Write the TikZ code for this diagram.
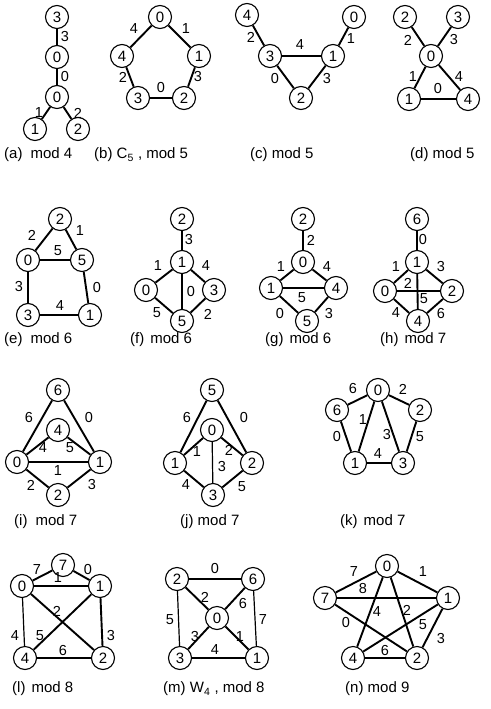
\documentclass[tikz,border=0pt]{standalone}
\usepackage{fontspec}
\setmainfont{Liberation Sans}
\tikzset{
  vtx/.style={circle,draw,line width=1.1pt,minimum size=23pt,inner sep=0pt,font=\fontsize{15}{15}\selectfont},
  ed/.style={line width=1.9pt},
  edt/.style={line width=1.2pt},
  wt/.style={inner sep=0pt,font=\fontsize{14.5}{14.5}\selectfont},
  capt/.style={anchor=west,inner sep=0pt,font=\fontsize{15}{15}\selectfont}
}
\begin{document}
\begin{tikzpicture}[x=1pt,y=-1pt]
    \useasboundingbox (0,0) rectangle (490,709);
    % (a)
    \node[vtx] (a3) at (57,17) {3};
    \node[vtx] (a0) at (57,57) {0};
    \node[vtx] (a0b) at (57,97) {0};
    \node[vtx] (a1) at (35,129) {1};
    \node[vtx] (a2) at (78,129) {2};
    \draw[ed] (a3) -- (a0);
    \draw[ed] (a0) -- (a0b);
    \draw[ed] (a0b) -- (a1);
    \draw[ed] (a0b) -- (a2);
    \node[wt] at (65,37) {3};
    \node[wt] at (65,77) {0};
    \node[wt] at (39,113) {1};
    \node[wt] at (78,113) {2};
    \node[capt] (capa) at (4,155) {(a)\hspace{8pt}mod 4};
    % (b)
    \node[vtx] (b0) at (160,17) {0};
    \node[vtx] (b4) at (122,56) {4};
    \node[vtx] (b1) at (199,56) {1};
    \node[vtx] (b3) at (138,98) {3};
    \node[vtx] (b2) at (184,98) {2};
    \draw[ed] (b0) -- (b4);
    \draw[ed] (b0) -- (b1);
    \draw[ed] (b4) -- (b3);
    \draw[ed] (b1) -- (b2);
    \draw[ed] (b3) -- (b2);
    \node[wt] at (134,29) {4};
    \node[wt] at (186,29) {1};
    \node[wt] at (123,77) {2};
    \node[wt] at (198,77) {3};
    \node[wt] at (161,88) {0};
    \node[capt] (capb) at (94,155) {(b) C\textsubscript{5} , mod 5};
    % (c)
    \node[vtx] (c4) at (247,15) {4};
    \node[vtx] (c0) at (354,17) {0};
    \node[vtx] (c3) at (270,56) {3};
    \node[vtx] (c1) at (333,56) {1};
    \node[vtx] (c2) at (301,98) {2};
    \draw[ed] (c4) -- (c3);
    \draw[ed] (c0) -- (c1);
    \draw[ed] (c3) -- (c1);
    \draw[ed] (c3) -- (c2);
    \draw[ed] (c1) -- (c2);
    \node[wt] at (251,37) {2};
    \node[wt] at (351,39) {1};
    \node[wt] at (300,45) {4};
    \node[wt] at (275,79) {0};
    \node[wt] at (327,79) {3};
    \node[capt] (capc) at (250,155) {(c) mod 5};
    % (d)
    \node[vtx] (d2) at (405,17) {2};
    \node[vtx] (d3) at (458,17) {3};
    \node[vtx] (d0) at (431,56) {0};
    \node[vtx] (d1) at (409,99) {1};
    \node[vtx] (d4) at (468,99) {4};
    \draw[ed] (d2) -- (d0);
    \draw[ed] (d3) -- (d0);
    \draw[ed] (d0) -- (d1);
    \draw[ed] (d0) -- (d4);
    \draw[ed] (d1) -- (d4);
    \node[wt] at (408,40) {2};
    \node[wt] at (454,40) {3};
    \node[wt] at (413,77) {1};
    \node[wt] at (459,77) {4};
    \node[wt] at (438,89) {0};
    \node[capt] (capd) at (410,155) {(d) mod 5};
    % (e)
    \node[vtx] (e2) at (60,219) {2};
    \node[vtx] (e0) at (28,260) {0};
    \node[vtx] (e5) at (82,260) {5};
    \node[vtx] (e3) at (28,315) {3};
    \node[vtx] (e1) at (90,315) {1};
    \draw[ed] (e2) -- (e0);
    \draw[ed] (e2) -- (e5);
    \draw[ed] (e0) -- (e5);
    \draw[ed] (e0) -- (e3);
    \draw[ed] (e5) -- (e1);
    \draw[ed] (e3) -- (e1);
    \node[wt] at (32,235) {2};
    \node[wt] at (80,231) {1};
    \node[wt] at (58,251) {5};
    \node[wt] at (19,287) {3};
    \node[wt] at (97,288) {0};
    \node[wt] at (60,306) {4};
    \node[capt] (cape) at (4,340) {(e)\hspace{8pt}mod 6};
    % (f)
    \node[vtx] (f2) at (182,219) {2};
    \node[vtx] (f1) at (182,262) {1};
    \node[vtx] (f0) at (146,290) {0};
    \node[vtx] (f3) at (214,290) {3};
    \node[vtx] (f5) at (182,321) {5};
    \draw[ed] (f2) -- (f1);
    \draw[ed] (f1) -- (f0);
    \draw[ed] (f1) -- (f3);
    \draw[edt] (f1) -- (f5);
    \draw[ed] (f0) -- (f5);
    \draw[ed] (f3) -- (f5);
    \node[wt] at (189,240) {3};
    \node[wt] at (158,266) {1};
    \node[wt] at (206,266) {4};
    \node[wt] at (191,292) {0};
    \node[wt] at (157,313) {5};
    \node[wt] at (208,314) {2};
    \node[capt] (capf) at (130,340) {(f)\hspace{6pt}mod 6};
    % (g)
    \node[vtx] (g2) at (303,219) {2};
    \node[vtx] (g0) at (303,262) {0};
    \node[vtx] (g1) at (271,288) {1};
    \node[vtx] (g4) at (336,288) {4};
    \node[vtx] (g5) at (307,321) {5};
    \draw[ed] (g2) -- (g0);
    \draw[ed] (g0) -- (g1);
    \draw[ed] (g0) -- (g4);
    \draw[ed] (g1) -- (g4);
    \draw[ed] (g1) -- (g5);
    \draw[ed] (g4) -- (g5);
    \node[wt] at (311,240) {2};
    \node[wt] at (281,267) {1};
    \node[wt] at (327,267) {4};
    \node[wt] at (302,298) {5};
    \node[wt] at (280,314) {0};
    \node[wt] at (329,314) {3};
    \node[capt] (capg) at (265,340) {(g)\hspace{6pt}mod 6};
    % (h)
    \node[vtx] (h6) at (417,219) {6};
    \node[vtx] (h1) at (417,262) {1};
    \node[vtx] (h0) at (385,291) {0};
    \node[vtx] (h2) at (452,291) {2};
    \node[vtx] (h4) at (418,321) {4};
    \draw[edt] (h6) -- (h1);
    \draw[ed] (h1) -- (h0);
    \draw[ed] (h1) -- (h2);
    \draw[ed] (h1) -- (h4);
    \draw[ed] (h0) -- (h2);
    \draw[ed] (h0) -- (h4);
    \draw[ed] (h2) -- (h4);
    \node[wt] at (423,240) {0};
    \node[wt] at (396,267) {1};
    \node[wt] at (441,267) {3};
    \node[wt] at (408,283) {2};
    \node[wt] at (424,299) {5};
    \node[wt] at (396,313) {4};
    \node[wt] at (441,314) {6};
    \node[capt] (caph) at (380,340) {(h)\hspace{6pt}mod 7};
    % (i)
    \node[vtx] (i6) at (58,390) {6};
    \node[vtx] (i4) at (58,430) {4};
    \node[vtx] (i0) at (17,462) {0};
    \node[vtx] (i1) at (100,462) {1};
    \node[vtx] (i2) at (58,495) {2};
    \draw[ed] (i6) -- (i0);
    \draw[ed] (i6) -- (i1);
    \draw[ed] (i4) -- (i0);
    \draw[ed] (i4) -- (i1);
    \draw[ed] (i0) -- (i1);
    \draw[ed] (i0) -- (i2);
    \draw[ed] (i2) -- (i1);
    \node[wt] at (29,418) {6};
    \node[wt] at (89,418) {0};
    \node[wt] at (43,448) {4};
    \node[wt] at (70,448) {5};
    \node[wt] at (58,471) {1};
    \node[wt] at (31,485) {2};
    \node[wt] at (92,485) {3};
    \node[capt] (capi) at (14,522) {(i)\hspace{8pt}mod 7};
    % (j)
    \node[vtx] (j5) at (212,390) {5};
    \node[vtx] (j0) at (212,430) {0};
    \node[vtx] (j1) at (175,463) {1};
    \node[vtx] (j2) at (252,463) {2};
    \node[vtx] (j3) at (213,495) {3};
    \draw[ed] (j5) -- (j1);
    \draw[ed] (j5) -- (j2);
    \draw[ed] (j0) -- (j1);
    \draw[ed] (j0) -- (j2);
    \draw[edt] (j0) -- (j3);
    \draw[ed] (j1) -- (j3);
    \draw[ed] (j2) -- (j3);
    \node[wt] at (187,418) {6};
    \node[wt] at (244,418) {0};
    \node[wt] at (197,452) {1};
    \node[wt] at (229,450) {2};
    \node[wt] at (222,467) {3};
    \node[wt] at (186,485) {4};
    \node[wt] at (242,487) {5};
    \node[capt] (capj) at (180,522) {(j) mod 7};
    % (k)
    \node[vtx] (k0) at (378,390) {0};
    \node[vtx] (k6) at (337,410) {6};
    \node[vtx] (k2) at (420,410) {2};
    \node[vtx] (k1) at (355,463) {1};
    \node[vtx] (k3) at (403,463) {3};
    \draw[ed] (k0) -- (k6);
    \draw[ed] (k0) -- (k2);
    \draw[ed] (k6) -- (k1);
    \draw[ed] (k2) -- (k3);
    \draw[edt] (k1) -- (k3);
    \draw[ed] (k0) -- (k1);
    \draw[ed] (k0) -- (k3);
    \node[wt] at (353,389) {6};
    \node[wt] at (403,389) {2};
    \node[wt] at (363,420) {1};
    \node[wt] at (337,437) {0};
    \node[wt] at (387,435) {3};
    \node[wt] at (420,437) {5};
    \node[wt] at (378,454) {4};
    \node[capt] (capk) at (340,522) {(k)\hspace{6pt}mod 7};
    % (l)
    \node[vtx] (l7) at (63,565) {7};
    \node[vtx] (l0) at (22,586) {0};
    \node[vtx] (l1) at (100,586) {1};
    \node[vtx] (l4) at (25,658) {4};
    \node[vtx] (l2) at (103,658) {2};
    \draw[ed] (l7) -- (l0);
    \draw[ed] (l7) -- (l1);
    \draw[ed] (l0) -- (l1);
    \draw[edt] (l0) -- (l4);
    \draw[ed] (l1) -- (l2);
    \draw[ed] (l4) -- (l2);
    \draw[ed] (l0) -- (l2);
    \draw[ed] (l1) -- (l4);
    \node[wt] at (37,570) {7};
    \node[wt] at (88,570) {0};
    \node[wt] at (58,578) {1};
    \node[wt] at (57,611) {2};
    \node[wt] at (15,636) {4};
    \node[wt] at (40,636) {5};
    \node[wt] at (111,636) {3};
    \node[wt] at (63,650) {6};
    \node[capt] (capl) at (12,689) {(l)\hspace{6pt}mod 8};
    % (m)
    \node[vtx] (m2) at (177,579) {2};
    \node[vtx] (m6) at (253,579) {6};
    \node[vtx] (m0) at (217,618) {0};
    \node[vtx] (m3) at (180,658) {3};
    \node[vtx] (m1) at (257,658) {1};
    \draw[edt] (m2) -- (m6);
    \draw[edt] (m2) -- (m3);
    \draw[edt] (m6) -- (m1);
    \draw[edt] (m3) -- (m1);
    \draw[ed] (m0) -- (m2);
    \draw[ed] (m0) -- (m6);
    \draw[ed] (m0) -- (m3);
    \draw[ed] (m0) -- (m1);
    \node[wt] at (215,569) {0};
    \node[wt] at (205,597) {2};
    \node[wt] at (243,604) {6};
    \node[wt] at (170,620) {5};
    \node[wt] at (263,620) {7};
    \node[wt] at (195,637) {3};
    \node[wt] at (240,637) {1};
    \node[wt] at (215,650) {4};
    \node[capt] (capm) at (163,689) {(m) W\textsubscript{4} , mod 8};
    % (n)
    \node[vtx] (n0) at (387,566) {0};
    \node[vtx] (n7) at (325,598) {7};
    \node[vtx] (n1) at (448,598) {1};
    \node[vtx] (n4) at (353,658) {4};
    \node[vtx] (n2) at (417,658) {2};
    \draw[ed] (n0) -- (n7);
    \draw[ed] (n0) -- (n1);
    \draw[edt] (n7) -- (n1);
    \draw[ed] (n0) -- (n4);
    \draw[ed] (n0) -- (n2);
    \draw[ed] (n7) -- (n2);
    \draw[ed] (n1) -- (n4);
    \draw[ed] (n1) -- (n2);
    \draw[ed] (n4) -- (n2);
    \node[wt] at (354,572) {7};
    \node[wt] at (423,572) {1};
    \node[wt] at (363,589) {8};
    \node[wt] at (377,612) {4};
    \node[wt] at (407,610) {2};
    \node[wt] at (346,623) {0};
    \node[wt] at (423,625) {5};
    \node[wt] at (441,638) {3};
    \node[wt] at (385,651) {6};
    \node[capt] (capn) at (345,689) {(n) mod 9};
\end{tikzpicture}
\end{document}
